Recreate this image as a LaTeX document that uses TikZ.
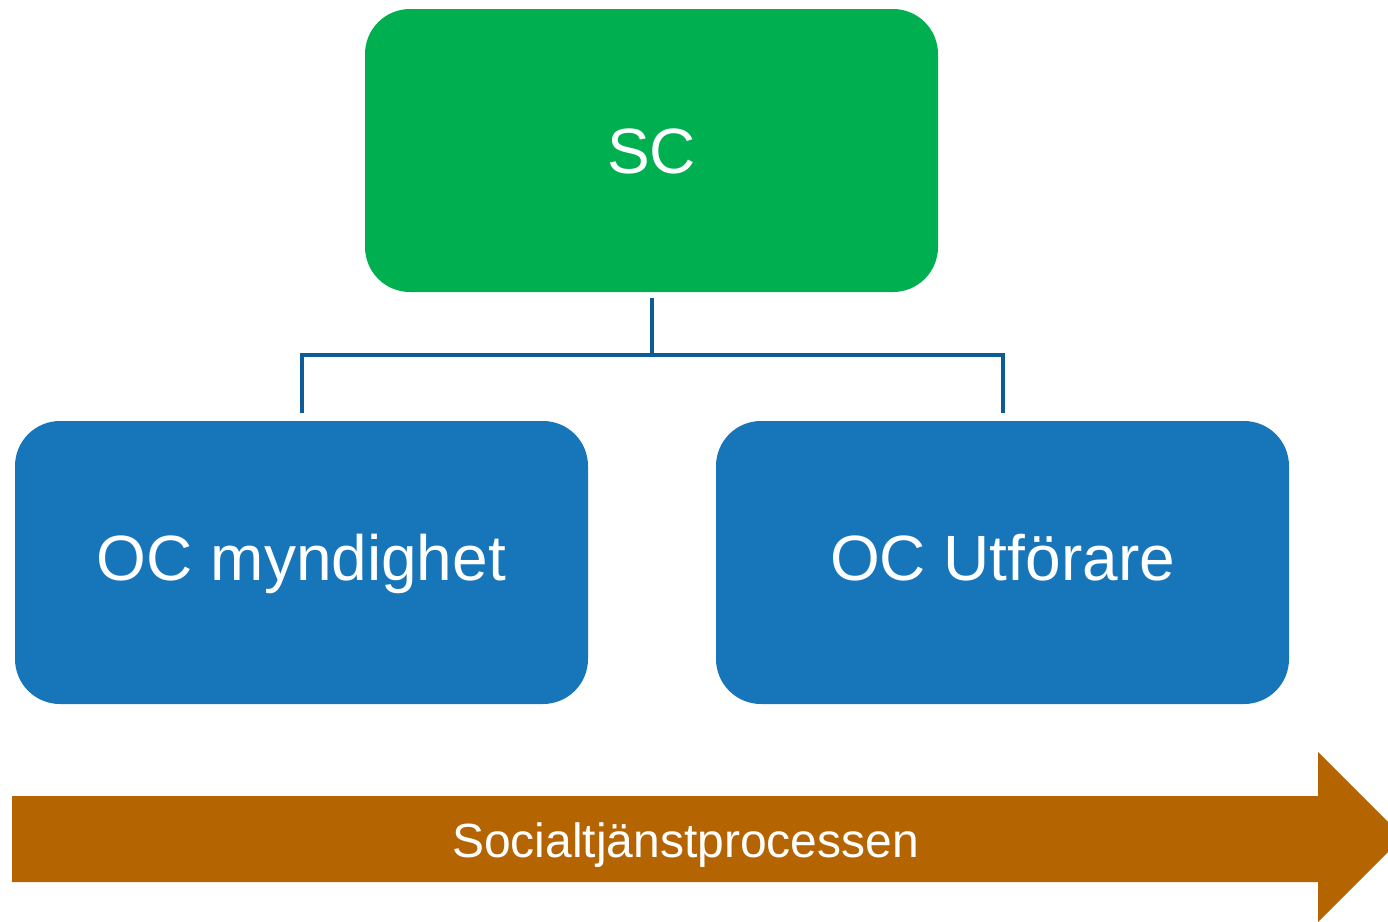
\documentclass[tikz,border=0pt]{standalone}
\usepackage{fontspec}
\setmainfont{Liberation Sans}
\definecolor{scgreen}{HTML}{00AF50}
\definecolor{ocblue}{HTML}{1776BA}
\definecolor{connblue}{HTML}{0E5C97}
\definecolor{procbrown}{HTML}{B46400}
\begin{document}
\begin{tikzpicture}[x=1pt,y=-1pt,
  box/.style={rounded corners=45pt, minimum width=573pt, minimum height=283pt,
    inner sep=0pt, text=white, font=\fontsize{64}{70}\selectfont},
  conn/.style={draw=connblue, line width=4pt, line join=miter},
  lbl/.style={text=white, inner sep=0pt, anchor=base}]
\useasboundingbox (0,0) rectangle (1388,921);
\node[box, fill=scgreen] (sc) at (651.5,150.5) {};
\node[lbl, font=\fontsize{64}{70}\selectfont] (sct) at (651.5,173) {SC};
\node[box, fill=ocblue] (oa) at (301.5,562.5) {};
\node[lbl, font=\fontsize{64}{70}\selectfont] (oat) at (301.5,580) {OC myndighet};
\node[box, fill=ocblue] (ob) at (1002.5,562.5) {};
\node[lbl, font=\fontsize{64}{70}\selectfont] (obt) at (1002.5,580) {OC Utförare};
\coordinate (mid) at (651.5,355);
\draw[conn] ([yshift=-6pt]sc.south) -- (mid);
\draw[conn] ([yshift=8pt]oa.north) |- (mid) -| ([yshift=8pt]ob.north);
\begin{scope}
\clip (0,0) rectangle (1388,921);
\fill[procbrown] (12,796) -- (1318,796) -- (1318,752) -- (1403,837) -- (1318,922) -- (1318,882) -- (12,882) -- cycle;
\end{scope}
\node[lbl, font=\fontsize{48}{54}\selectfont] (proc) at (685.5,857) {Socialtjänstprocessen};
\end{tikzpicture}
\end{document}
